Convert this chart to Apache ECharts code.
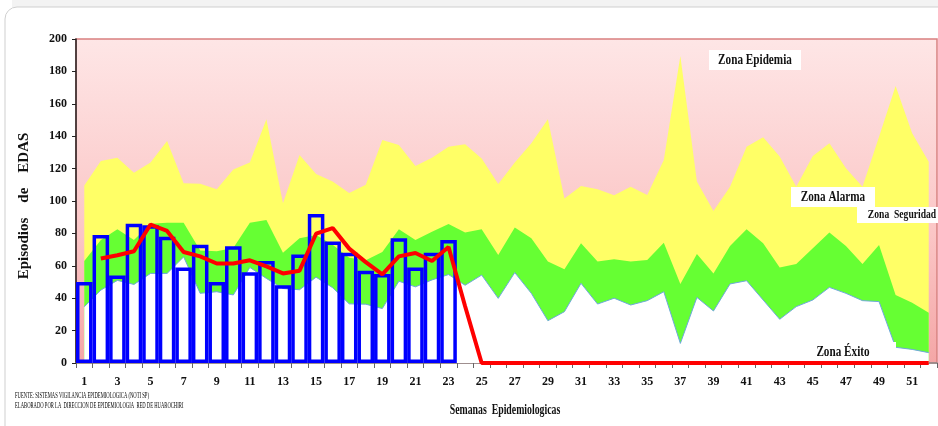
<!DOCTYPE html>
<html><head><meta charset="utf-8">
<script src="https://cdn.jsdelivr.net/npm/echarts@6/dist/echarts.min.js"></script>
<style>html,body{margin:0;padding:0;background:#fff}#c{width:938px;height:426px}</style>
</head><body><div id="c"></div>
<script>
// ---- DATA ----
const weeks = ['1','2','3','4','5','6','7','8','9','10','11','12','13','14','15','16','17','18','19','20','21','22','23','24','25','26','27','28','29','30','31','32','33','34','35','36','37','38','39','40','41','42','43','44','45','46','47','48','49','50','51','52'];
// upper limit of Zona Alarma (yellow)
const zonaAlarma = [109.5,124.7,126.7,117.5,123.7,137,111,110.7,107.2,119.5,123.7,150.4,98.6,128.4,116.7,112,105,110,137.7,134.6,121.6,126.7,133.5,135,126.3,110.5,123.7,135.6,150.4,101.6,109.3,107.2,103.5,108.8,103.7,125.3,189.5,112,93.8,108.8,133.5,139.3,127.4,108.8,127.8,135.6,120.2,108.8,139.7,171,141.8,124.3];
// upper limit of Zona Seguridad (green)
const zonaSeguridad = [63,76,82.5,76,86,86.5,86.5,69.5,69,71,86.5,88.3,68,77,79,73,65,63.5,68.5,82.5,76,81,85.8,80.5,82.5,66.7,83.7,77,62.6,57.8,73.9,62.6,64,62.6,63.6,74.3,48.8,67.3,55.3,72.2,82.5,73.9,59,61.1,70.8,80.5,72.2,61.1,72.8,42,37.2,31];
// upper limit of Zona Éxito (white)
const zonaExito = [34.7,45,51,48.5,55.3,55.3,65.5,43,44,42,59,52.2,46,45.2,53,46.5,36.5,36.3,33.6,50.5,47,51.3,54.6,48,54.3,39.9,55.8,43,26.1,31.7,49.2,36.4,40,35.8,38.5,44,12.1,40.5,32.1,48.8,50.8,38.9,27,34.8,38.9,46.7,43,38.5,37.9,9.7,8.4,6.4];
// weekly EDA episodes (blue bars)
const episodios = [50,79,54,86,85,78,59,73,50,72,56,63,48,67,92,75,68,57,55,77,59,68,76];
// red line
const tendencia = [null,64.5,66.5,69,85.5,81.5,68.5,65.8,61.4,61.4,63.4,59.6,55.3,57,79.8,83.3,70.6,62.3,54.7,65.8,67.9,63,71.6,35,0,0,0,0,0,0,0,0,0,0,0,0,0,0,0,0,0,0,0,0,0,0,0,0,0,0,0,0];
const yTicks = {min:0, max:200, step:20};

const SERIF = "'Liberation Serif','Times New Roman',serif";
const chart = echarts.init(document.getElementById('c'), null, {renderer:'canvas'});

function label(txt, cx, cy, size, sx){
  return {type:'text', x:cx, y:cy, scaleX:sx, z:100, silent:true,
    style:{text:txt, font:'bold '+size+'px '+SERIF, fill:'#111', align:'center', verticalAlign:'middle'}};
}

chart.setOption({
  animation:false,
  grid:{left:76, right:1, top:39, bottom:63, show:true,
    backgroundColor:{type:'linear', x:0, y:0, x2:0, y2:1,
      colorStops:[{offset:0,color:'#fee6e6'},{offset:0.6,color:'#fbc6c6'},{offset:1,color:'#f4a6a6'}]},
    borderColor:'#d98080', borderWidth:1.5},
  xAxis:{type:'category', data:weeks, boundaryGap:true,
    axisLine:{show:true, lineStyle:{color:'#8a8a8a', width:1.5}},
    axisTick:{show:true, interval:0, length:5, lineStyle:{color:'#666'}},
    axisLabel:{interval:1, margin:13, fontFamily:SERIF, fontWeight:'bold', fontSize:12, color:'#111'},
    splitLine:{show:false}},
  yAxis:{type:'value', min:yTicks.min, max:yTicks.max, interval:yTicks.step,
    splitLine:{show:false},
    axisLine:{show:true, lineStyle:{color:'#222', width:1.5}},
    axisTick:{show:true, length:4, lineStyle:{color:'#222'}},
    axisLabel:{margin:9, fontFamily:SERIF, fontWeight:'bold', fontSize:12, color:'#111'}},
  series:[
    {name:'Zona Alarma', type:'line', data:zonaAlarma, symbol:'none', silent:true, z:1,
      lineStyle:{width:0}, areaStyle:{color:'#ffff66', opacity:1}},
    {name:'Zona Seguridad', type:'line', data:zonaSeguridad, symbol:'none', silent:true, z:1,
      lineStyle:{width:0}, areaStyle:{color:'#66ff33', opacity:1}},
    {name:'Zona Éxito', type:'line', data:zonaExito, symbol:'none', silent:true, z:1,
      lineStyle:{width:1, color:'#6fa8dc'}, areaStyle:{color:'#ffffff', opacity:1}},
    {name:'Episodios', type:'bar', data:episodios, barWidth:'100%', z:3,
      itemStyle:{color:'rgba(0,0,0,0)', borderColor:'#0000ff', borderWidth:3.5}},
    {name:'Tendencia', type:'line', data:tendencia, symbol:'none', z:4,
      lineStyle:{color:'#ff0000', width:4}}
  ],
  graphic:[
    {type:'rect', shape:{x:12, y:0, width:940, height:7}, style:{fill:'#f3f3f3'}, z:-20, silent:true},
    {type:'rect', shape:{x:5, y:7, width:960, height:440, r:12}, style:{fill:'none', stroke:'#cfcfcf', lineWidth:1}, z:-10, silent:true},
    // zone labels
    {type:'rect', shape:{x:709, y:50, width:92, height:20}, style:{fill:'#fff'}, z:99, silent:true},
    label('Zona Epidemia', 755, 60, 14, 0.8),
    {type:'rect', shape:{x:791, y:187, width:84, height:20}, style:{fill:'#fff'}, z:99, silent:true},
    label('Zona Alarma', 833, 197, 14, 0.8),
    {type:'rect', shape:{x:857, y:207, width:81, height:16}, style:{fill:'#fff'}, z:99, silent:true},
    label('Zona  Seguridad', 902, 215, 12, 0.8),
    {type:'rect', shape:{x:791, y:342, width:105, height:19}, style:{fill:'#fff'}, z:99, silent:true},
    label('Zona Éxito', 843, 352, 14, 0.8),
    // axis names
    {type:'text', x:24, y:206, rotation:Math.PI/2, z:100, silent:true,
      style:{text:'Episodios    de    EDAS', font:'bold 15px '+SERIF, fill:'#111', align:'center', verticalAlign:'middle'}},
    label('Semanas  Epidemiologicas', 505, 410, 14, 0.7),
    // footnotes
    {type:'text', x:15, y:396, scaleX:0.62, z:100, silent:true,
      style:{text:'FUENTE: SISTEMAS VIGILANCIA EPIDEMIOLOGICA (NOTI SP)', font:'7.5px '+SERIF, fill:'#000', align:'left', verticalAlign:'middle'}},
    {type:'text', x:15, y:406, scaleX:0.62, z:100, silent:true,
      style:{text:'ELABORADO POR LA  DIRECCION DE EPIDEMIOLOGIA  RED DE HUAROCHIRI', font:'7.5px '+SERIF, fill:'#000', align:'left', verticalAlign:'middle'}}
  ]
});
</script>
</body></html>
